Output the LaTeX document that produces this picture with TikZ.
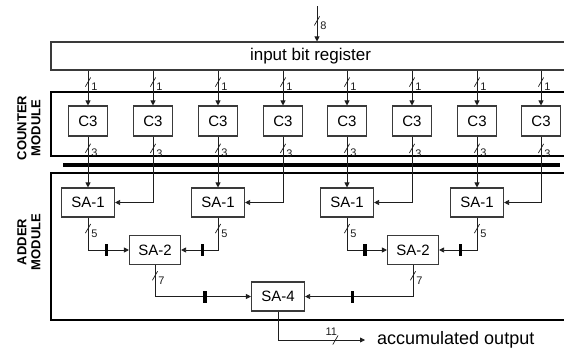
\documentclass[tikz,border=0pt]{standalone}
\usepackage{fontspec}
\setmainfont{Liberation Sans}
\usetikzlibrary{arrows.meta,positioning}
\definecolor{wire}{HTML}{1E1E1E}
\definecolor{edge}{HTML}{3A3A3A}

\begin{document}
\begin{tikzpicture}[x=1pt, y=-1pt,
          blk/.style={draw=edge, line width=1.1pt, fill=white, inner sep=0pt,
                      minimum width=39pt, minimum height=30pt,
                      font=\fontsize{15}{17}\selectfont},
          sa/.style={blk, minimum width=53pt, minimum height=29pt},
          module/.style={draw=black, line width=2.2pt, inner sep=0pt},
          side/.style={rotate=90, align=center, font=\bfseries\fontsize{13}{14}\selectfont},
          arr/.style={-{Triangle[length=5pt,width=5pt]}, line width=0.8pt, wire},
          slashbar/.style={fill=wire, minimum width=10.5pt, minimum height=0.7pt,
                           inner sep=0pt, rotate=60},
          lbl/.style={font=\fontsize{11}{13}\selectfont, inner sep=0.5pt,
                      anchor=north west, xshift=2.5pt},
          lblup/.style={lbl, anchor=south east, xshift=0pt, yshift=3.5pt},
          regbar/.style={fill=black, minimum width=3.3pt, minimum height=12pt, inner sep=0pt}
        ]
        \useasboundingbox (0,0) rectangle (564,351);
        % frames
        \node[draw=edge, line width=1.1pt, minimum width=519pt, minimum height=28pt,
              font=\fontsize{17}{19}\selectfont] (reg) at (310.5,56) {input bit register};
        \node[module, minimum width=519pt, minimum height=64pt] (cm) at (310.5,124) {};
        \node[module, minimum width=519pt, minimum height=147pt] (am) at (310.5,246.5) {};
        \node[fill=black, minimum width=497pt, minimum height=3.5pt, inner sep=0pt] (bar) at (311.5,165) {};
        \node[side] (cml) at (29,128) {COUNTER\\MODULE};
        \node[side] (aml) at (29,242) {ADDER\\MODULE};
        % counters
        \node[blk] (c1) at (88,121) {C3};
        \node[blk] (c2) at (153,121) {C3};
        \node[blk] (c3) at (218,121) {C3};
        \node[blk] (c4) at (283,121) {C3};
        \node[blk] (c5) at (347,121) {C3};
        \node[blk] (c6) at (412,121) {C3};
        \node[blk] (c7) at (477,121) {C3};
        \node[blk] (c8) at (541,121) {C3};
        % adders
        \node[sa] (s1) at (88,202.5) {SA-1};
        \node[sa] (s2) at (218,202.5) {SA-1};
        \node[sa] (s3) at (347,202.5) {SA-1};
        \node[sa] (s4) at (477,202.5) {SA-1};
        \node[sa, minimum width=51pt] (t1) at (155,250) {SA-2};
        \node[sa, minimum width=51pt] (t2) at (413,250) {SA-2};
        \node[sa] (f) at (278,296.5) {SA-4};
        \node[font=\fontsize{18}{20}\selectfont, anchor=west, inner xsep=12pt] (out) at (365,340) {accumulated output};
        \coordinate (in) at (317,6);
        % input into register
        \draw[arr] (in) -- node[pos=.42, slashbar] {} node[pos=.42, lbl] {8} (in |- reg.north);
        % register to counters
        \draw[arr] (c1 |- reg.south) -- node[pos=.33, slashbar] {} node[pos=.33, lbl] {1} (c1);
        \draw[arr] (c2 |- reg.south) -- node[pos=.33, slashbar] {} node[pos=.33, lbl] {1} (c2);
        \draw[arr] (c3 |- reg.south) -- node[pos=.33, slashbar] {} node[pos=.33, lbl] {1} (c3);
        \draw[arr] (c4 |- reg.south) -- node[pos=.33, slashbar] {} node[pos=.33, lbl] {1} (c4);
        \draw[arr] (c5 |- reg.south) -- node[pos=.33, slashbar] {} node[pos=.33, lbl] {1} (c5);
        \draw[arr] (c6 |- reg.south) -- node[pos=.33, slashbar] {} node[pos=.33, lbl] {1} (c6);
        \draw[arr] (c7 |- reg.south) -- node[pos=.33, slashbar] {} node[pos=.33, lbl] {1} (c7);
        \draw[arr] (c8 |- reg.south) -- node[pos=.33, slashbar] {} node[pos=.33, lbl] {1} (c8);
        % counters to first adders
        \draw[arr] (c1) -- node[pos=.23, slashbar] {} node[pos=.23, lbl] {3} (s1);
        \draw[arr] (c2) |- node[pos=.09, slashbar] {} node[pos=.09, lbl] {3} (s1);
        \draw[arr] (c3) -- node[pos=.23, slashbar] {} node[pos=.23, lbl] {3} (s2);
        \draw[arr] (c4) |- node[pos=.09, slashbar] {} node[pos=.09, lbl] {3} (s2);
        \draw[arr] (c5) -- node[pos=.23, slashbar] {} node[pos=.23, lbl] {3} (s3);
        \draw[arr] (c6) |- node[pos=.09, slashbar] {} node[pos=.09, lbl] {3} (s3);
        \draw[arr] (c7) -- node[pos=.23, slashbar] {} node[pos=.23, lbl] {3} (s4);
        \draw[arr] (c8) |- node[pos=.09, slashbar] {} node[pos=.09, lbl] {3} (s4);
        % adder tree
        \draw[arr] (s1) |- node[pos=.17, slashbar] {} node[pos=.17, lbl] {5} node[pos=.73, regbar] {} (t1);
        \draw[arr] (s2) |- node[pos=.17, slashbar] {} node[pos=.17, lbl] {5} node[pos=.71, regbar] {} (t1);
        \draw[arr] (s3) |- node[pos=.17, slashbar] {} node[pos=.17, lbl] {5} node[pos=.725, regbar] {} (t2);
        \draw[arr] (s4) |- node[pos=.17, slashbar] {} node[pos=.17, lbl] {5} node[pos=.72, regbar] {} (t2);
        \draw[arr] (t1) |- node[pos=.17, slashbar] {} node[pos=.17, lbl] {7} node[pos=.76, regbar] {} (f);
        \draw[arr] (t2) |- node[pos=.17, slashbar] {} node[pos=.17, lbl] {7} node[pos=.78, regbar] {} (f);
        \draw[arr] (f) |- node[pos=.83, slashbar] {} node[pos=.83, lblup] {11} (out);
      \end{tikzpicture}
\end{document}
